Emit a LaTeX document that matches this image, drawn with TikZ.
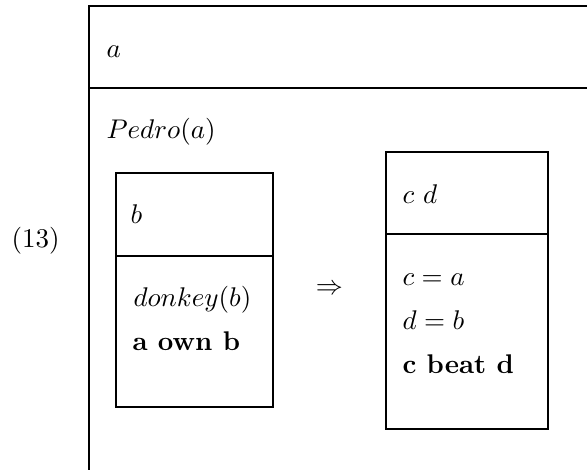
\documentclass[tikz,border=0pt]{standalone}
\begin{document}
\begin{tikzpicture}[x=0.37pt,y=-0.37pt,
  txt/.style={inner sep=0pt,anchor=base west},
  drsline/.style={line width=0.4pt,black}]
\useasboundingbox (0,0) rectangle (587,470);
% outer box (open to the right and bottom)
\coordinate (otl) at (89,6);
\coordinate (otr) at (587,6);
\coordinate (oml) at (89,88);
\coordinate (omr) at (587,88);
\coordinate (obl) at (89,470);
\draw[drsline] (otr) -- (otl) -- (obl);
\draw[drsline] (oml) -- (omr);
\node[txt] (ua) at (106,57) {$a$};
\node[txt] (pedro) at (106,138) {$Pedro(a)$};
\node[txt] (num) at (11,247) {(13)};
% box b
\draw[drsline] (116,173) rectangle (273,407);
\draw[drsline] (116,256) -- (273,256);
\node[txt] (ub) at (130,223) {$b$};
\node[txt] (donkey) at (133,306) {$donkey(b)$};
\node[txt] (own) at (132,350) {\textbf{a own b}};
% arrow
\node[inner sep=0pt] (impl) at (329.5,290) {$\Rightarrow$};
% box cd
\draw[drsline] (386,152) rectangle (548,429);
\draw[drsline] (386,234) -- (548,234);
\node[txt] (ucd) at (402,203) {$c\ d$};
\node[txt] (ca) at (402,285) {$c = a$};
\node[txt] (db) at (402,329) {$d = b$};
\node[txt] (beat) at (402,373) {\textbf{c beat d}};
\end{tikzpicture}
\end{document}
